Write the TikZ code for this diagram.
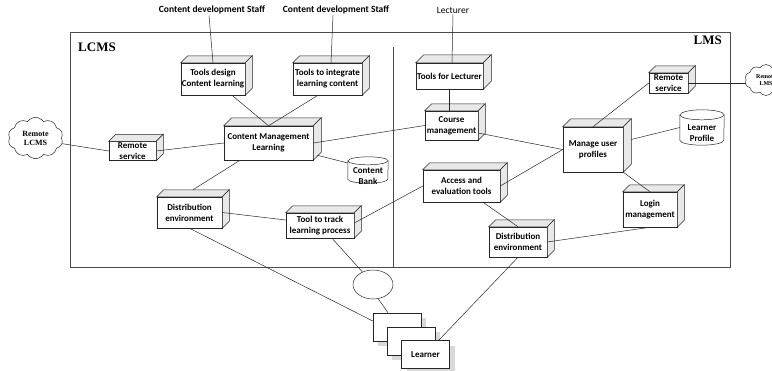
\documentclass[tikz,border=0pt]{standalone}
\usepackage{fontspec}
\setmainfont{Carlito}
\newfontfamily\tnr{Liberation Serif}
\usetikzlibrary{shapes.symbols,shapes.geometric,calc,shadows}

\tikzset{
  ln/.style={draw=black!85, line width=0.5pt},
  frame/.style={draw=black!70, line width=0.8pt},
  face/.style={draw=black!85, line width=0.5pt, fill=gray!18},
  bx/.style={draw=black!85, line width=0.5pt, fill=white, align=center, inner sep=0.5pt,
    font=\fontsize{9}{10.8}\selectfont\bfseries},
  txt/.style={align=center, inner sep=1pt, font=\fontsize{9}{10.8}\selectfont\bfseries},
  lbl/.style={inner sep=1pt, font=\fontsize{9.5}{10}\selectfont\bfseries},
  sys/.style={inner sep=0pt, font=\fontsize{13}{13}\selectfont\tnr\bfseries},
  cloudn/.style={cloud, cloud puffs=10, cloud puff arc=110, draw=black!85, line width=0.5pt,
    fill=white, inner sep=0pt, align=center},
  card/.style={draw=black!85, line width=0.5pt, fill=white, minimum width=48pt, minimum height=28pt,
    inner sep=0pt, font=\fontsize{9}{10}\selectfont\bfseries,
    drop shadow={shadow xshift=5pt, shadow yshift=-5pt, fill=gray!30, opacity=1}},
  cyl/.style={draw=black!85, line width=0.5pt, fill=white},
}

% depth, name, x, y, w, h, text
\newcommand\mkcube[7][7]{%
  \node[bx, minimum width=#5pt, minimum height=#6pt] (#2) at (#3,#4) {#7};
  \draw[face] (#2.north west) -- ++(#1pt,#1pt) -- ($(#2.north east)+(#1pt,#1pt)$) -- (#2.north east) -- cycle;
  \draw[face] (#2.north east) -- ++(#1pt,#1pt) -- ($(#2.south east)+(#1pt,#1pt)$) -- (#2.south east) -- cycle;
}

\begin{document}
\begin{tikzpicture}[x=1pt,y=-1pt]
\useasboundingbox (0,0) rectangle (772,370);
\clip (0,0) rectangle (772,370);

% frames
\draw[frame] (70,32) rectangle (730,267);
\draw[frame] (393,47) -- (393,267);
\node[sys, anchor=west] (lcms) at (78,47) {LCMS};
\node[sys, anchor=east] (lms) at (722,40) {LMS};

% actors
\node[lbl] (cds1) at (212,10) {Content development Staff};
\node[lbl] (cds2) at (336,10) {Content development Staff};
\node[lbl, font=\fontsize{9.5}{10}\selectfont] (lect) at (453,10) {Lecturer};

% clouds
\node[cloudn, minimum width=55pt, minimum height=26pt, font=\fontsize{8}{9}\selectfont\tnr\bfseries]
  (rlcms) at (35.5,138) {Remote\\LCMS};
\node[cloudn, minimum width=42pt, minimum height=21pt, font=\fontsize{6}{6.5}\selectfont\tnr\bfseries]
  (rlms) at (766,80) {Remote\\LMS};

% cubes (LCMS)
\mkcube{tdc}{213}{79}{64}{32}{Tools design\\Content learning}
\mkcube{tic}{327.5}{79}{69}{32}{Tools to integrate\\learning content}
\mkcube[8]{cml}{268.5}{143}{89}{34}{Content Management\\Learning}
\mkcube{rsl}{132.5}{151}{47}{19}{Remote\\service}
\mkcube{del}{189.5}{212.5}{65}{31}{Distribution\\environment}
\mkcube{ttl}{320}{225.5}{68}{25}{Tool to track\\learning process}
% cubes (LMS)
\mkcube[8]{tfl}{449.5}{76}{67}{26}{Tools for Lecturer}
\mkcube{cm}{451.5}{125.5}{53}{29}{Course\\management}
\mkcube{aet}{461.5}{186}{77}{32}{Access and\\evaluation tools}
\mkcube[8]{mup}{593}{149.5}{60}{45}{Manage user\\profiles}
\mkcube{rsr}{668.5}{83}{39}{20}{Remote\\service}
\mkcube{lm}{650}{209.5}{54}{35}{Login\\management}
\mkcube{der}{518}{242}{58}{30}{Distribution\\environment}

% cylinders
\node[minimum width=40pt, minimum height=26pt, inner sep=0pt] (cb) at (368,170) {};
\draw[cyl] ([yshift=-4pt]cb.north west) -- ([yshift=4pt]cb.south west)
  arc (180:360:20pt and 4pt) -- ([yshift=-4pt]cb.north east) arc (0:180:20pt and 4pt) -- cycle;
\draw[cyl] ([yshift=-4pt]cb.north west) arc (180:360:20pt and 4pt);
\node[txt] at ([yshift=-6pt]cb.center) {Content\\Bank};

\node[minimum width=44pt, minimum height=35pt, inner sep=0pt] (lp) at (702,127.5) {};
\draw[cyl] ([yshift=-5pt]lp.north west) -- ([yshift=5pt]lp.south west)
  arc (180:360:22pt and 5pt) -- ([yshift=-5pt]lp.north east) arc (0:180:22pt and 5pt) -- cycle;
\draw[cyl] ([yshift=-5pt]lp.north west) arc (180:360:22pt and 5pt);
\node[txt] at ([yshift=-6pt]lp.center) {Learner\\Profile};

% learner loop and cards
\node[draw=black!85, line width=0.5pt, ellipse, minimum width=40pt, minimum height=29pt, inner sep=0pt]
  (loop) at (373,284.5) {};
\node[card] (c1) at (397,327) {};
\node[card] (c2) at (411,341) {};
\node[card] (c3) at (425.5,354.5) {Learner};

% connectors
\draw[ln] ([xshift=-3pt]cds1.south) -- (tdc.north);
\draw[ln] ([xshift=-3pt]cds2.south) -- ([xshift=3.5pt]tic.north);
\draw[ln] (lect.south) -- ([xshift=2.5pt]tfl.north);
\draw[ln] ([xshift=19pt]tdc.south) -- (cml.north);
\draw[ln] ([xshift=-9.5pt]tic.south) -- (cml.north);
\draw[ln] (rlcms.-12) -- (rsl.west);
\draw[ln] (rsl.east) -- (cml.west);
\draw[ln] (cml.east) -- (cm.west);
\draw[ln] ([xshift=4pt,yshift=5pt]cml.south east) -- ([yshift=7pt]cb.west);
\draw[ln] ([xshift=-28.5pt]cml.south) -- ([xshift=3.5pt,yshift=7pt]del.north);
\draw[ln] (del.east) -- ([yshift=5.5pt]ttl.west);
\draw[ln] ([yshift=2.5pt]ttl.east) -- (aet.west);
\draw[ln] (aet.east) -- (mup.west);
\draw[ln] ([yshift=-7.5pt]cm.east) -- (mup.west);
\draw[ln] (tfl.south) -- (tfl.south |- cm.north);
\draw[ln] (rsr.west) -- (mup.north);
\draw[ln] (rsr.east) -- (rsr.east -| rlms.west);
\draw[ln] ([xshift=8pt,yshift=10pt]mup.east) -- (lp.west);
\draw[ln] (mup.south east) -- (lm.north);
\draw[ln] ([xshift=21.5pt]aet.south) -- (der.north);
\draw[ln] (der.east) -- (lm.south);
\draw[ln] (der.south) -- ([xshift=-11pt]c3.north east);
\draw[ln] (del.south) -- ([yshift=6pt]c1.west);
\draw[ln] ([xshift=12pt]ttl.south) -- (loop.130);
\draw[ln] (loop.-70) -- ([xshift=-9pt]c1.north);
\end{tikzpicture}
\end{document}
